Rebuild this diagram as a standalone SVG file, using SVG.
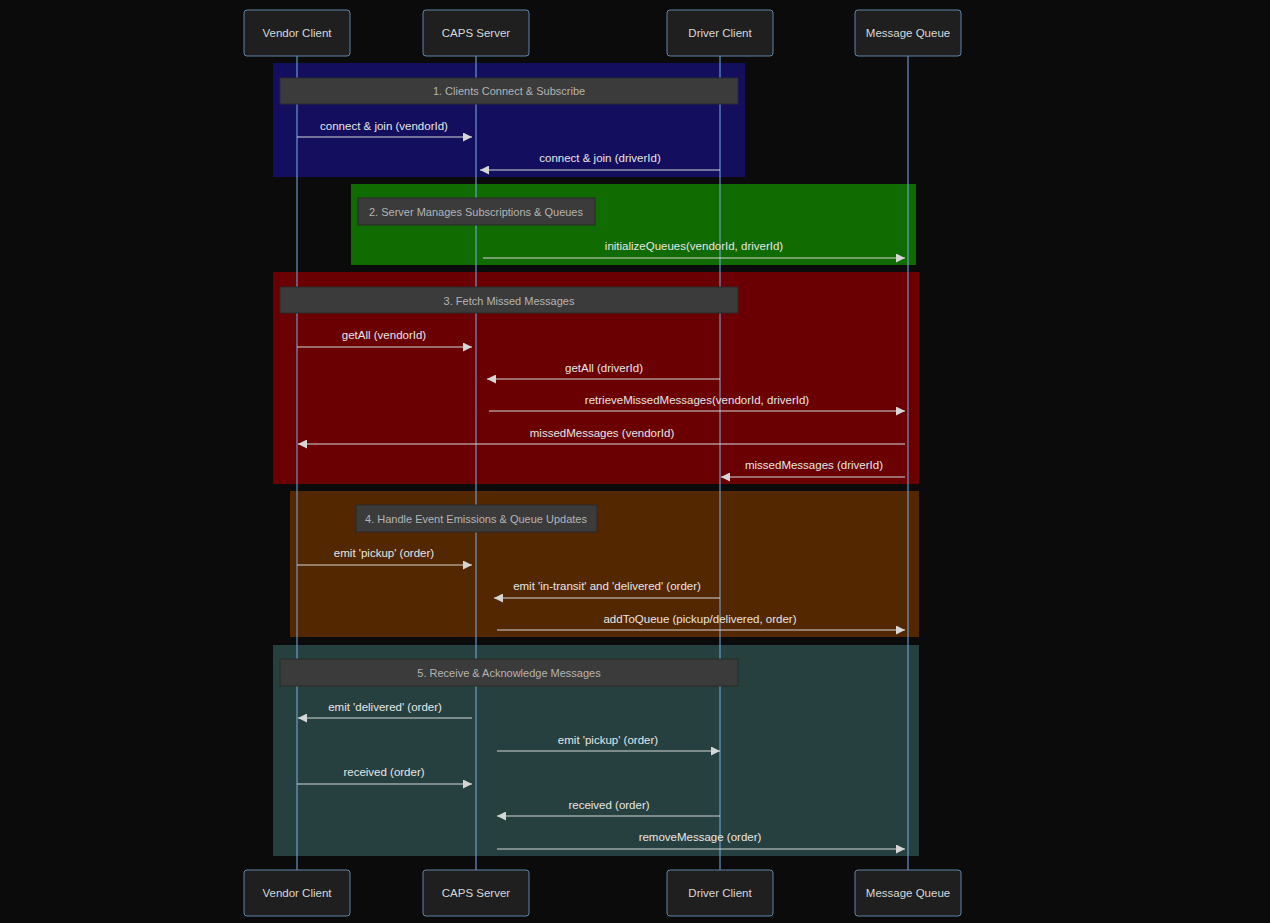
<svg xmlns="http://www.w3.org/2000/svg" width="1270" height="923" viewBox="0 0 1270 923">
<defs>
<marker id="arr" viewBox="0 0 10 10" refX="10" refY="5" markerWidth="9" markerHeight="9" markerUnits="userSpaceOnUse" orient="auto">
<path d="M0,0 L10,5 L0,10 z" fill="#d6d6d6"/>
</marker>
<style>
.actor{fill:#1f1f1f;stroke:#5f85aa;stroke-width:1}
.atext{font-family:"Liberation Sans",Arial,sans-serif;font-size:11.5px;fill:#d8d8d8;text-anchor:middle;dominant-baseline:central}
.life{stroke:#79b0e3;stroke-width:1}
.note{fill:#3b3b3b;stroke:#2a2a2a;stroke-width:1}
.ntext{font-family:"Liberation Sans",Arial,sans-serif;font-size:11px;fill:#b4b4b4;text-anchor:middle;dominant-baseline:central}
.msg{stroke:#d6d6d6;stroke-width:1;fill:none;marker-end:url(#arr)}
.mtext{font-family:"Liberation Sans",Arial,sans-serif;font-size:11.5px;fill:#e6e6e6;text-anchor:middle}
</style>
</defs>
<rect width="1270" height="923" fill="#0b0b0b"/>
<g id="regions">
<rect x="273" y="63" width="472" height="114" fill="#130f5e"/>
<rect x="351" y="184" width="565" height="81" fill="#106b00"/>
<rect x="273" y="272" width="646" height="212" fill="#6b0003"/>
<rect x="290" y="491" width="629" height="146" fill="#532700"/>
<rect x="273" y="645" width="646" height="211" fill="#264040"/>
</g>
<g id="lifelines">
<line class="life" x1="297" y1="56" x2="297" y2="870"/>
<line class="life" x1="476" y1="56" x2="476" y2="870"/>
<line class="life" x1="720" y1="56" x2="720" y2="870"/>
<line class="life" x1="908" y1="56" x2="908" y2="870"/>
</g>
<g id="vendor-top"><rect class="actor" x="244" y="10" width="106" height="46" rx="3"/><text class="atext" x="297" y="33">Vendor Client</text></g>
<g id="caps-top"><rect class="actor" x="423" y="10" width="106" height="46" rx="3"/><text class="atext" x="476" y="33">CAPS Server</text></g>
<g id="driver-top"><rect class="actor" x="667" y="10" width="106" height="46" rx="3"/><text class="atext" x="720" y="33">Driver Client</text></g>
<g id="queue-top"><rect class="actor" x="855" y="10" width="106" height="46" rx="3"/><text class="atext" x="908" y="33">Message Queue</text></g>
<g id="vendor-bottom"><rect class="actor" x="244" y="870" width="106" height="46" rx="3"/><text class="atext" x="297" y="893">Vendor Client</text></g>
<g id="caps-bottom"><rect class="actor" x="423" y="870" width="106" height="46" rx="3"/><text class="atext" x="476" y="893">CAPS Server</text></g>
<g id="driver-bottom"><rect class="actor" x="667" y="870" width="106" height="46" rx="3"/><text class="atext" x="720" y="893">Driver Client</text></g>
<g id="queue-bottom"><rect class="actor" x="855" y="870" width="106" height="46" rx="3"/><text class="atext" x="908" y="893">Message Queue</text></g>
<g id="note1"><rect class="note" x="280" y="78" width="458" height="26"/><text class="ntext" x="509" y="91">1. Clients Connect &amp; Subscribe</text></g>
<g id="note2"><rect class="note" x="358" y="198" width="237" height="27"/><text class="ntext" x="476" y="212">2. Server Manages Subscriptions &amp; Queues</text></g>
<g id="note3"><rect class="note" x="280" y="287" width="458" height="26"/><text class="ntext" x="509" y="301">3. Fetch Missed Messages</text></g>
<g id="note4"><rect class="note" x="356" y="505" width="241" height="27"/><text class="ntext" x="476" y="519">4. Handle Event Emissions &amp; Queue Updates</text></g>
<g id="note5"><rect class="note" x="280" y="659" width="458" height="27"/><text class="ntext" x="509" y="673">5. Receive &amp; Acknowledge Messages</text></g>
<g id="connectors">
<line class="msg" x1="297" y1="137" x2="472" y2="137"/>
<text class="mtext" x="384" y="130">connect &amp; join (vendorId)</text>
<line class="msg" x1="720" y1="170" x2="480" y2="170"/>
<text class="mtext" x="600" y="162">connect &amp; join (driverId)</text>
<line class="msg" x1="483" y1="258" x2="905" y2="258"/>
<text class="mtext" x="694" y="250">initializeQueues(vendorId, driverId)</text>
<line class="msg" x1="297" y1="347" x2="472" y2="347"/>
<text class="mtext" x="384" y="339">getAll (vendorId)</text>
<line class="msg" x1="720" y1="379" x2="487" y2="379"/>
<text class="mtext" x="604" y="372">getAll (driverId)</text>
<line class="msg" x1="489" y1="411" x2="905" y2="411"/>
<text class="mtext" x="697" y="404">retrieveMissedMessages(vendorId, driverId)</text>
<line class="msg" x1="905" y1="444" x2="298" y2="444"/>
<text class="mtext" x="602" y="437">missedMessages (vendorId)</text>
<line class="msg" x1="905" y1="477" x2="721" y2="477"/>
<text class="mtext" x="814" y="469">missedMessages (driverId)</text>
<line class="msg" x1="297" y1="565" x2="472" y2="565"/>
<text class="mtext" x="384" y="557">emit 'pickup' (order)</text>
<line class="msg" x1="720" y1="598" x2="494" y2="598"/>
<text class="mtext" x="607" y="590">emit 'in-transit' and 'delivered' (order)</text>
<line class="msg" x1="497" y1="630" x2="905" y2="630"/>
<text class="mtext" x="700" y="623">addToQueue (pickup/delivered, order)</text>
<line class="msg" x1="472" y1="718" x2="298" y2="718"/>
<text class="mtext" x="385" y="711">emit 'delivered' (order)</text>
<line class="msg" x1="497" y1="751" x2="720" y2="751"/>
<text class="mtext" x="608" y="744">emit 'pickup' (order)</text>
<line class="msg" x1="297" y1="784" x2="472" y2="784"/>
<text class="mtext" x="384" y="776">received (order)</text>
<line class="msg" x1="720" y1="816" x2="497" y2="816"/>
<text class="mtext" x="609" y="809">received (order)</text>
<line class="msg" x1="497" y1="849" x2="905" y2="849"/>
<text class="mtext" x="700" y="841">removeMessage (order)</text>
</g>
</svg>
